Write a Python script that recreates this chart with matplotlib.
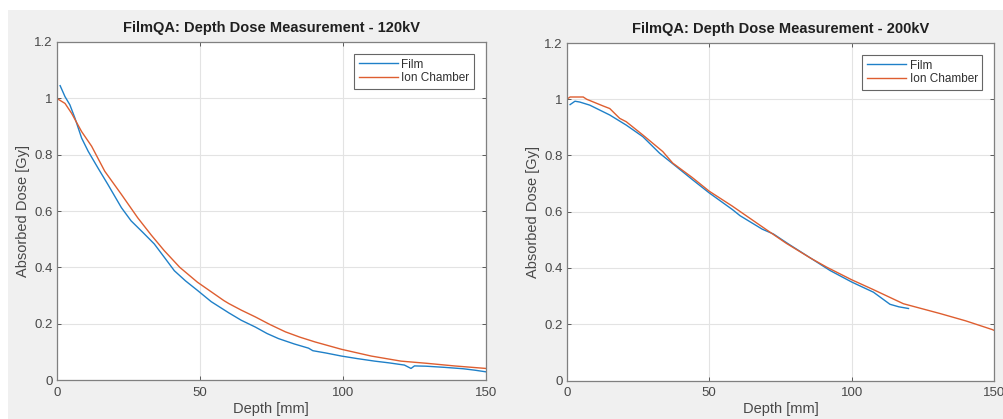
import numpy as np
import matplotlib
matplotlib.use("Agg")
import matplotlib.pyplot as plt
from matplotlib.patches import Rectangle

plt.rcParams['font.family'] = ['Liberation Sans', 'DejaVu Sans']

# 120kV depth dose readings
depth_film_120 = [1.2, 2.9, 4.6, 6.4, 8.7, 11.0, 14.4, 17.9, 22.6, 26.0, 30.0, 34.1, 37.5,
                  41.1, 45.0, 49.2, 54.0, 60.2, 64.5, 69.4, 73.5, 77.5, 83.0, 88.0, 89.5,
                  94.0, 99.5, 105.0, 111.1, 116.0, 121.5, 123.8, 125.0, 129.0, 135.4,
                  142.0, 146.0, 150.0]
dose_film_120 = [1.045, 1.006, 0.977, 0.929, 0.859, 0.812, 0.753, 0.694, 0.612, 0.565,
                 0.525, 0.483, 0.437, 0.388, 0.352, 0.318, 0.278, 0.238, 0.212, 0.188,
                 0.165, 0.147, 0.128, 0.113, 0.104, 0.096, 0.085, 0.076, 0.067, 0.061,
                 0.053, 0.041, 0.050, 0.049, 0.045, 0.040, 0.035, 0.029]
depth_ion_120 = [0.0, 2.9, 5.2, 8.7, 12.2, 16.8, 22.6, 28.3, 33.0, 37.6, 43.0, 49.2,
                 58.4, 60.2, 64.5, 69.4, 74.5, 79.9, 85.0, 90.3, 99.5, 109.9, 120.3,
                 129.6, 138.9, 150.0]
dose_ion_120 = [1.0, 0.982, 0.947, 0.882, 0.83, 0.741, 0.659, 0.576, 0.515, 0.459,
                0.400, 0.347, 0.282, 0.271, 0.248, 0.224, 0.197, 0.171, 0.152, 0.135,
                0.109, 0.085, 0.067, 0.059, 0.050, 0.041]

# 200kV depth dose readings
depth_film_200 = [1.2, 2.9, 4.6, 8.1, 15.1, 20.9, 26.7, 32.6, 38.4, 44.0, 50.0, 58.1,
                  60.8, 68.6, 72.5, 78.0, 84.2, 92.4, 100.0, 107.6, 113.4, 116.5, 119.9]
dose_film_200 = [0.981, 0.993, 0.99, 0.979, 0.944, 0.908, 0.867, 0.808, 0.761, 0.715,
                 0.667, 0.608, 0.586, 0.538, 0.521, 0.484, 0.444, 0.391, 0.350, 0.314,
                 0.271, 0.262, 0.256]
depth_ion_200 = [0.0, 1.2, 5.8, 7.0, 12.8, 15.1, 18.6, 20.9, 26.7, 33.7, 37.2, 44.0,
                 50.0, 58.1, 60.8, 69.8, 77.0, 85.4, 91.2, 100.0, 107.6, 118.1, 131.0,
                 140.0, 149.3, 150.0]
dose_ion_200 = [1.0, 1.008, 1.008, 1.0, 0.976, 0.967, 0.932, 0.92, 0.873, 0.814, 0.773,
                0.722, 0.673, 0.62, 0.601, 0.538, 0.488, 0.436, 0.403, 0.358, 0.323,
                0.273, 0.238, 0.212, 0.181, 0.178]

titles = ['FilmQA: Depth Dose Measurement - 120kV', 'FilmQA: Depth Dose Measurement - 200kV']
xticks = [0, 50, 100, 150]
yticks = [0, 0.2, 0.4, 0.6, 0.8, 1.0, 1.2]
ylabels = ['0', '0.2', '0.4', '0.6', '0.8', '1', '1.2']

blue = '#1f80c8'
orange = '#de5e30'

W, H = 1004, 419
fig = plt.figure(figsize=(W / 100, H / 100), dpi=100)
fig.patch.set_facecolor('white')
fig.patches.append(Rectangle((8 / W, 0), 1 - 8 / W, 1 - 10 / H, transform=fig.transFigure,
                             facecolor='#f0f0f0', edgecolor='none', zorder=-10))

boxes = [(56.7, 486, 42, 380), (566.7, 994.3, 43, 380.5)]
data = [(depth_film_120, dose_film_120, depth_ion_120, dose_ion_120),
        (depth_film_200, dose_film_200, depth_ion_200, dose_ion_200)]

for (x0, x1, y0, y1), (fx, fy, ix, iy), title in zip(boxes, data, titles):
    ax = fig.add_axes([x0 / W, 1 - y1 / H, (x1 - x0) / W, (y1 - y0) / H])
    ax.set_facecolor('white')
    ax.plot(fx, fy, color=blue, lw=1.0, label='Film')
    ax.plot(ix, iy, color=orange, lw=1.0, label='Ion Chamber')
    ax.set_xlim(0, 150)
    ax.set_ylim(0, 1.2)
    ax.set_xticks(xticks)
    ax.set_yticks(yticks)
    ax.set_yticklabels(ylabels)
    ax.grid(True, color='#e3e3e3', lw=0.8)
    ax.set_axisbelow(True)
    ax.tick_params(direction='in', top=True, right=True, length=3, width=0.6,
                   color='#444444', labelcolor='#484848', labelsize=9.5)
    ax.tick_params(axis='x', pad=5)
    ax.tick_params(axis='y', pad=3)
    for s in ax.spines.values():
        s.set_color('#808080')
        s.set_linewidth(0.9)
    ax.set_xlabel('Depth [mm]', fontsize=10.5, color='#484848', labelpad=2)
    ax.set_ylabel('Absorbed Dose [Gy]', fontsize=10.5, color='#484848', labelpad=3)
    ax.set_title(title, fontsize=10.5, fontweight='bold', color='#202020', pad=7)
    leg = ax.legend(loc='upper right', fontsize=8.5, frameon=True, fancybox=False,
                    handlelength=3.3, borderaxespad=1.0, labelspacing=0.15,
                    borderpad=0.4, handletextpad=0.3)
    leg.get_frame().set_edgecolor('#404040')
    leg.get_frame().set_linewidth(0.8)
    for t in leg.get_texts():
        t.set_color('#303030')

fig.savefig('out.png', dpi=100)
